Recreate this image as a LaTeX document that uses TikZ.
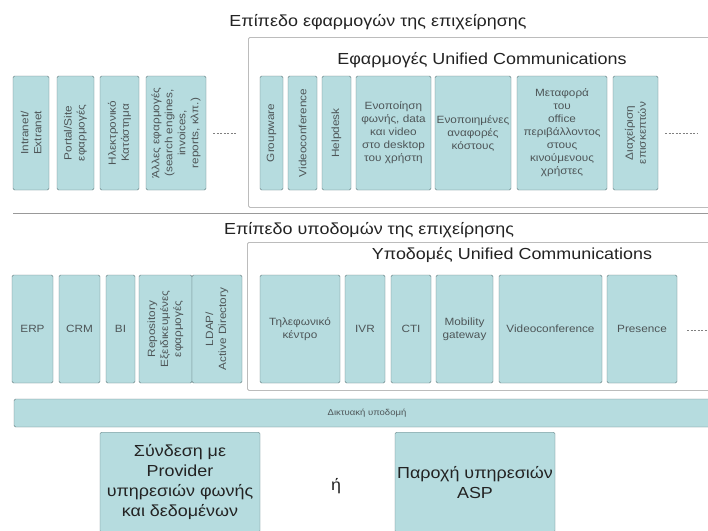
\documentclass[tikz,border=0pt]{standalone}
\usepackage{fontspec}
\setmainfont[FakeStretch=1.12]{Liberation Sans}
\usepackage{tikz}
\usetikzlibrary{positioning}
\definecolor{boxfill}{RGB}{182,220,223}
\definecolor{boxline}{RGB}{98,122,125}
\definecolor{panelline}{RGB}{188,188,188}
\definecolor{txt}{RGB}{78,86,88}
\definecolor{bigtxt}{RGB}{35,35,35}

\begin{document}
\begin{tikzpicture}[x=1pt, y=-1pt]
\tikzstyle{box} = [draw=boxline, fill=boxfill, rounded corners=1.5pt, inner sep=1pt, align=center, text=txt, font=\fontsize{10.5}{13}\selectfont]
\tikzstyle{vbox} = [box, rotate=90]
\tikzstyle{bigbox} = [box, text=bigtxt, font=\fontsize{16}{20}\selectfont]
\tikzstyle{panel} = [draw=panelline, fill=white, rounded corners=1.5pt, line width=0.8pt, anchor=north west]
\tikzstyle{level} = [text=bigtxt, font=\fontsize{16}{18}\selectfont]
\tikzstyle{dots} = [gray, dash pattern=on 2pt off 1.5pt]
\useasboundingbox (0,0) rectangle (708,530);

\node[level] (applevel) at (378,22) {Επίπεδο εφαρμογών της επιχείρησης};
\node[panel, minimum width=472, minimum height=170] (ucapps) at (248,37) {};
\node[level] (ucappstitle) at (482,60) {Εφαρμογές Unified Communications};

\node[vbox, minimum width=114, minimum height=36] (intranet) at (31,133) {Intranet/\\Extranet};
\node[vbox, minimum width=114, minimum height=37] (portal) at (75.5,133) {Portal/Site\\εφαρμογές};
\node[vbox, minimum width=114, minimum height=39] (eshop) at (119.5,133) {Ηλεκτρονικό\\Κατάστημα};
\node[vbox, minimum width=114, minimum height=60] (otherapps) at (176,133) {Άλλες εφαρμογές\\(search engines,\\invoices,\\reports, κλπ.)};
\coordinate (dotsa) at (213,133);
\coordinate (dotsb) at (237,133);
\draw[dots] (dotsa) -- (dotsb);

\node[vbox, minimum width=114, minimum height=23] (groupware) at (271.5,133) {Groupware};
\node[vbox, minimum width=114, minimum height=29] (vconfapp) at (302.5,133) {Videoconference};
\node[vbox, minimum width=114, minimum height=29] (helpdesk) at (336.5,133) {Helpdesk};
\node[box, minimum width=75, minimum height=114] (unify) at (393.5,133) {Ενοποίηση\\φωνής, data\\και video\\στο desktop\\του χρήστη};
\node[box, minimum width=76, minimum height=114] (costs) at (473,133) {Ενοποιημένες\\αναφορές\\κόστους};
\node[box, minimum width=90, minimum height=114] (office) at (562,133) {Μεταφορά\\του\\office\\περιβάλλοντος\\στους\\κινούμενους\\χρήστες};
\node[vbox, minimum width=114, minimum height=45] (visitors) at (635.5,133) {Διαχείριση\\επισκεπτών};
\coordinate (dotsc) at (665,133);
\coordinate (dotsd) at (698,133);
\draw[dots] (dotsc) -- (dotsd);

\coordinate (sepa) at (13,213);
\coordinate (sepb) at (708,213);
\draw[gray!80] (sepa) -- (sepb);

\node[level] (infralevel) at (369,230) {Επίπεδο υποδομών της επιχείρησης};
\node[panel, minimum width=473, minimum height=148] (ucinfra) at (247,242) {};
\node[level] (ucinfratitle) at (512,255) {Υποδομές Unified Communications};

\node[box, minimum width=41, minimum height=108] (erp) at (32.5,329) {ERP};
\node[box, minimum width=41, minimum height=108] (crm) at (79.5,329) {CRM};
\node[box, minimum width=29, minimum height=108] (bi) at (120.5,329) {BI};
\node[vbox, minimum width=108, minimum height=53] (repo) at (165.5,329) {Repository\\Εξειδικευμένες\\εφαρμογές};
\node[vbox, minimum width=108, minimum height=50] (ldap) at (217,329) {LDAP/\\Active Directory};

\node[box, minimum width=80, minimum height=108] (pbx) at (300,329) {Τηλεφωνικό\\κέντρο};
\node[box, minimum width=40, minimum height=108] (ivr) at (365,329) {IVR};
\node[box, minimum width=40, minimum height=108] (cti) at (411,329) {CTI};
\node[box, minimum width=57, minimum height=108] (mobility) at (464.5,329) {Mobility\\gateway};
\node[box, minimum width=103, minimum height=108] (vconf) at (550.5,329) {Videoconference};
\node[box, minimum width=70, minimum height=108] (presence) at (642,329) {Presence};
\coordinate (dotse) at (687,330);
\coordinate (dotsf) at (708,330);
\draw[dots] (dotse) -- (dotsf);

\node[box, minimum width=706, minimum height=28, font=\fontsize{8.5}{10}\selectfont] (network) at (367,413) {Δικτυακή υποδομή};

\node[bigbox, minimum width=160, minimum height=100, anchor=north] (provider) at (180,432) {Σύνδεση με\\Provider\\υπηρεσιών φωνής\\και δεδομένων};
\node[bigbox, minimum width=160, minimum height=100, anchor=north] (asp) at (475,432) {Παροχή υπηρεσιών\\ASP};
\node[text=bigtxt, font=\fontsize{16}{20}\selectfont] (or) at (336,486) {ή};
\end{tikzpicture}
\end{document}
